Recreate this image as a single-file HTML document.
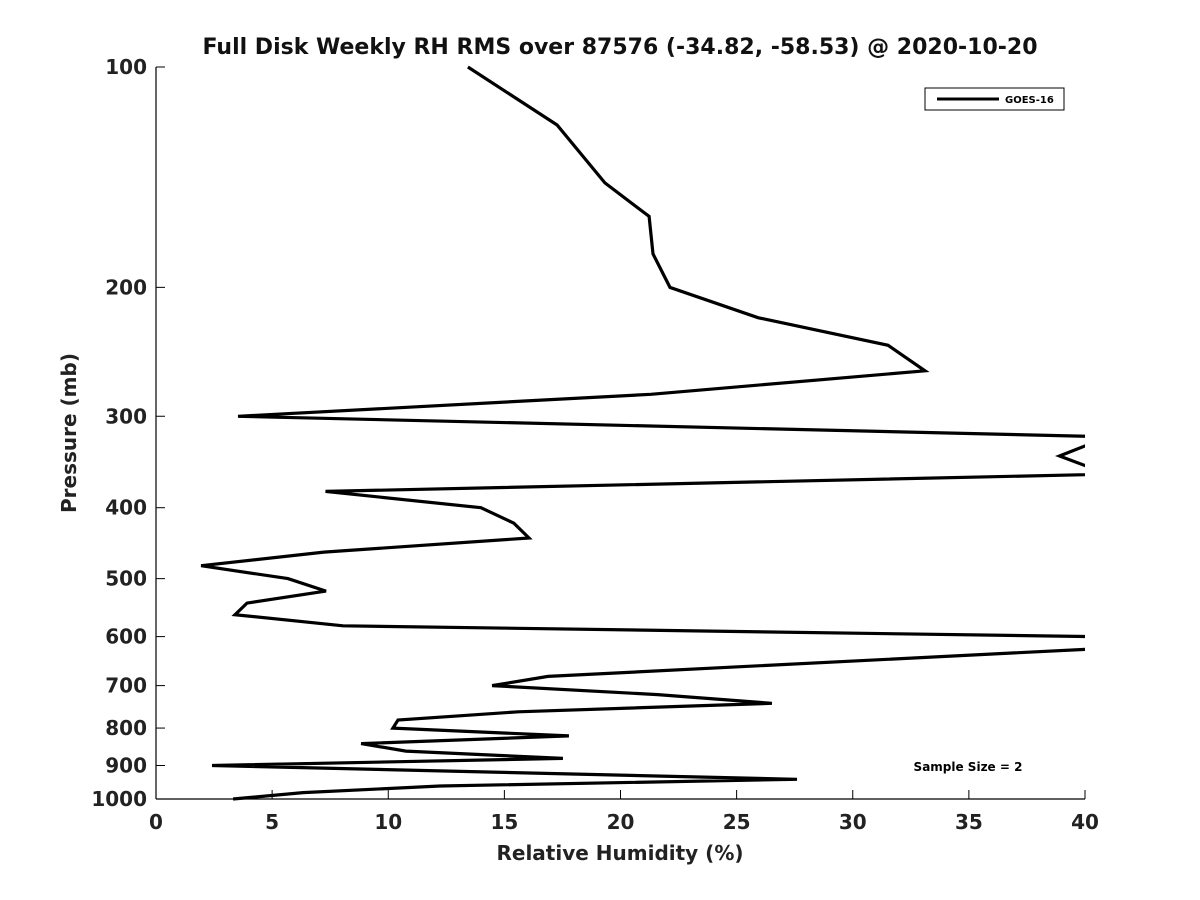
<!DOCTYPE html>
<html><head><meta charset="utf-8"><style>
body{margin:0;background:#fff}
svg{display:block;font-family:"DejaVu Sans","Liberation Sans",sans-serif}
</style></head><body>
<svg id="chart" width="1200" height="900">
<defs><clipPath id="plotclip"><rect x="156" y="60" width="929" height="745"/></clipPath></defs>
<text x="620" y="54" text-anchor="middle" font-size="22" font-weight="bold" fill="#111">Full Disk Weekly RH RMS over 87576 (-34.82, -58.53) @ 2020-10-20</text>
<g id="axes"></g>
<polyline id="series" fill="none" stroke="#000" stroke-width="3.2" stroke-linejoin="miter" clip-path="url(#plotclip)"/>
<text x="620" y="860" text-anchor="middle" font-size="20" font-weight="bold" fill="#222">Relative Humidity (%)</text>
<text transform="translate(76,433) rotate(-90)" text-anchor="middle" font-size="20" font-weight="bold" fill="#222">Pressure (mb)</text>
<g>
<rect x="925" y="88" width="139" height="22" fill="#fff" stroke="#000" stroke-width="1"/>
<line x1="937" y1="99" x2="999" y2="99" stroke="#000" stroke-width="3"/>
<text x="1005" y="103" font-size="10" font-weight="bold">GOES-16</text>
</g>
<text x="968" y="771" text-anchor="middle" font-size="12" font-weight="bold">Sample Size = 2</text>
</svg>
<script>
const pressures=[100,120,144,160,180,200,220,240,260,280,300,320,340,360,380,400,420,440,460,480,500,520,540,560,580,600,620,680,700,720,740,760,780,800,820,840,860,880,900,940,960,980,1000];
const rhValues=[13.43,17.27,19.33,21.23,21.4,22.13,25.92,31.52,33.11,21.31,3.53,41,38.9,41,7.3,13.99,15.41,16.06,7.23,1.94,5.68,7.32,3.92,3.4,8.05,40.3,42,16.88,14.47,21.6,26.52,15.59,10.42,10.2,17.78,8.83,10.76,17.52,2.41,27.6,12.23,6.33,3.32];
const xTicks=[0,5,10,15,20,25,30,35,40];
const yTicks=[100,200,300,400,500,600,700,800,900,1000];
const X0=156,X1=1085,Y0=67,Y1=799,xMin=0,xMax=40,pMin=100,pMax=1000;
function xs(v){return X0+(v-xMin)/(xMax-xMin)*(X1-X0);}
function ys(p){return Y0+Math.log10(p/pMin)/Math.log10(pMax/pMin)*(Y1-Y0);}
const NS="http://www.w3.org/2000/svg";
const axes=document.getElementById('axes');
function mk(tag,attrs){const e=document.createElementNS(NS,tag);for(const k in attrs)e.setAttribute(k,attrs[k]);axes.appendChild(e);return e;}
const ly=mk('line',{x1:X0,y1:Y0,x2:X0,y2:Y1,stroke:'#000','stroke-width':1.2});


const lx=mk('line',{x1:X0,y1:Y1,x2:X1,y2:Y1,stroke:'#000','stroke-width':1.2});


xTicks.forEach(v=>{
 const t=mk('line',{x1:xs(v),y1:Y1,x2:xs(v),y2:Y1-9,stroke:'#000','stroke-width':1});
 
 
 const l=mk('text',{x:xs(v),y:Y1+30,'text-anchor':'middle','font-size':20,'font-weight':'bold',fill:'#222'});
 l.textContent=v;
 
 
});
yTicks.forEach(p=>{
 const t=mk('line',{x1:X0,y1:ys(p),x2:X0+9,y2:ys(p),stroke:'#000','stroke-width':1});
 
 
 const l=mk('text',{x:X0-9,y:ys(p)+7,'text-anchor':'end','font-size':20,'font-weight':'bold',fill:'#222'});
 l.textContent=p;
 
 
});
document.getElementById('series').setAttribute('points',pressures.map((p,i)=>xs(rhValues[i]).toFixed(1)+','+ys(p).toFixed(1)).join(' '));
</script>
</body></html>
